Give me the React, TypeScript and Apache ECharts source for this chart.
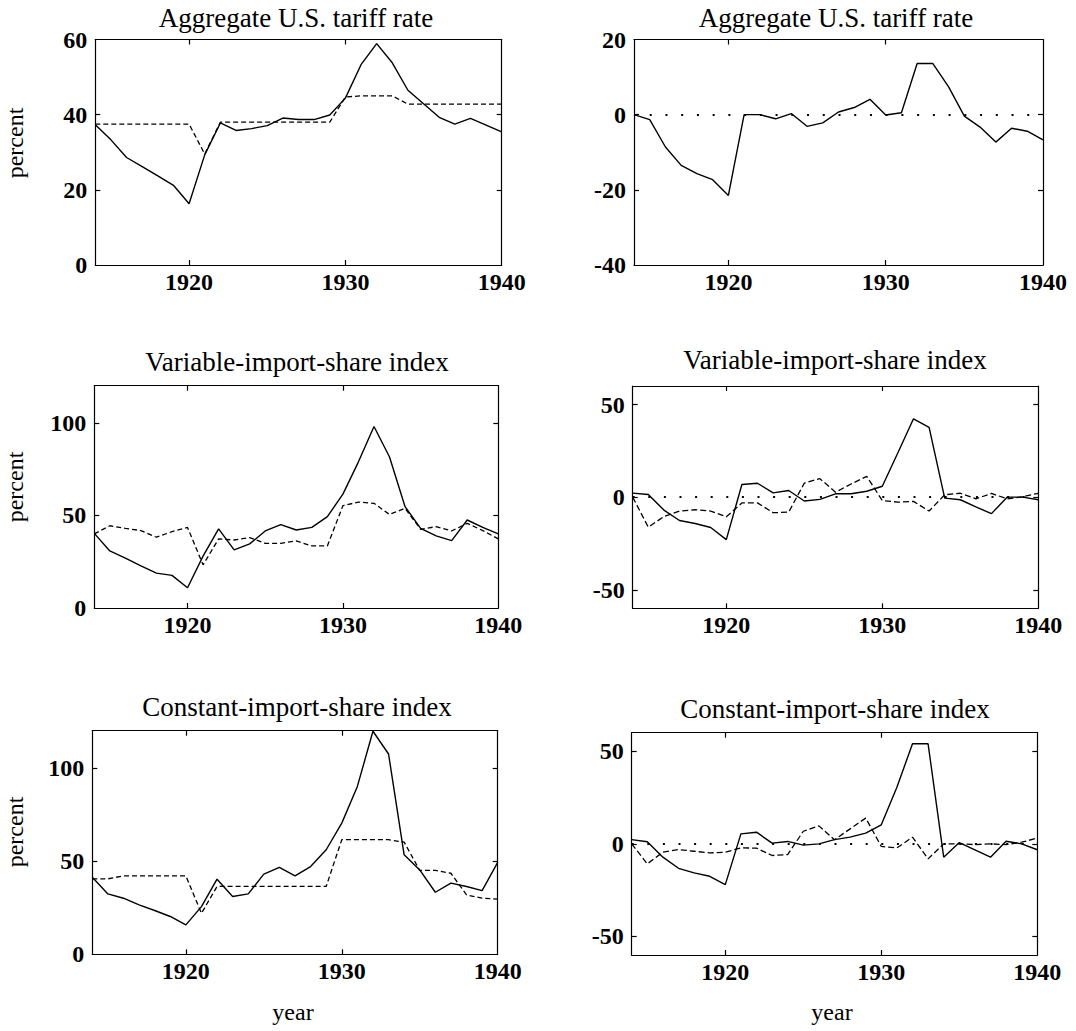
import React, { useEffect, useRef } from "react";
import * as echarts from "echarts";

// ---------- data ----------
const years = [
  1914, 1915, 1916, 1917, 1918, 1919, 1920, 1921, 1922, 1923, 1924, 1925, 1926, 1927,
  1928, 1929, 1930, 1931, 1932, 1933, 1934, 1935, 1936, 1937, 1938, 1939, 1940,
];

// Aggregate U.S. tariff rate
const tariffActual = [37.3, 33.3, 28.6, 26.2, 23.7, 21.2, 16.3, 29.3, 37.8, 35.8, 36.3, 37.1, 39.1, 38.7, 38.7, 39.9, 44.4, 53.3, 58.9, 53.8, 46.5, 42.9, 39.3, 37.5, 39.0, 37.2, 35.4];
const tariffPredicted = [37.5, 37.5, 37.5, 37.5, 37.5, 37.5, 37.5, 29.5, 38, 38, 38, 38, 38, 38, 38, 38, 44.7, 45, 45, 45, 42.8, 42.8, 42.8, 42.8, 42.8, 42.8, 42.8];
const tariffResidual = [0, -1.3, -8.6, -13.5, -15.7, -17.3, -21.5, 0, 0, -1.1, 0.3, -3.1, -2.2, 0.7, 1.9, 4.1, -0.1, 0.5, 13.6, 13.6, 7.4, -0.4, -3.3, -7.3, -3.6, -4.4, -6.7];

// Variable-import-share index
const varActual = [40.3, 30.8, 26.9, 22.8, 18.8, 17.6, 10.9, 28, 42.7, 31.4, 34.6, 41.6, 45.0, 42.1, 43.5, 49.3, 61.5, 78.9, 98.0, 81.5, 54.7, 43.0, 38.9, 36.4, 47.5, 43.5, 40.0];
const varPredicted = [40, 44.4, 43.0, 41.8, 38.2, 41.2, 43.5, 23.3, 37.3, 36.7, 38, 34.9, 34.9, 36.2, 33.5, 33.5, 55.2, 57.2, 56.5, 50.5, 53.8, 42.5, 43.9, 41.6, 45.7, 41.8, 37.3];
const varResidualA = [2.2, 1.4, -7, -12.6, -14.2, -16.4, -22.9, 6.8, 7.5, 2.3, 3.6, -2.1, -1.2, 1.8, 1.8, 3.2, 5.9, 24, 42.3, 37.7, -0.5, -1.4, -5.3, -8.9, 0, 0, -1.4];
const varResidualB = [0, -16.2, -10.5, -7.5, -6.8, -7.5, -10.6, -3.1, -3.1, -8.4, -8.1, 7.6, 10.0, 2.7, 7.1, 11.2, -1.8, -2.7, -2.3, -7.5, 1.3, 2.1, -0.9, 2.0, -0.9, 0.2, 2.1];

// Constant-import-share index
const constActual = [41.4, 32.4, 30.1, 26.5, 23.5, 20.3, 15.8, 25.6, 40.3, 31, 32.4, 43, 46.6, 42.1, 47.1, 56.1, 70.4, 90.1, 119.7, 107.5, 53.4, 45.3, 33.3, 38.2, 36.4, 34.2, 49.3];
const constPredicted = [40.5, 40.5, 42.1, 42.1, 42.1, 42.1, 42.1, 22, 36.4, 36.4, 36.4, 36.4, 36.4, 36.4, 36.4, 36.4, 61.5, 61.5, 61.5, 61.5, 60.2, 45, 45, 43.5, 31.9, 30.1, 29.6];
const constResidualA = [2.3, 1.1, -7.2, -13.2, -15.7, -17.5, -22, 5.4, 6.3, 0.4, 1.3, -0.7, 0, 2.3, 3.6, 5.8, 10.3, 30.6, 54, 54, -7.2, 0.7, -3.2, -7.2, 1.4, 0, -3.2];
const constResidualB = [0, -10.8, -4.5, -3.1, -4, -4.9, -4.5, -2.2, -2.3, -6.3, -5.8, 6.8, 9.7, 2.2, 8.1, 13.9, -1.4, -2.2, 3.6, -8.1, 0, 0, -0.4, 0, -0.4, 0.9, 3.1];

// tick labels
const xLabelValues = [1920, 1930, 1940];
const xTickValues = [1920, 1930];
const tariffYLabels = [0, 20, 40, 60];
const tariffYTicks = [20, 40];
const tariffResYLabels = [-40, -20, 0, 20];
const tariffResYTicks = [-20, 0];
const indexYLabels = [0, 50, 100];
const indexYTicks = [50, 100];
const indexResYLabels = [-50, 0, 50];
const indexResYTicks = [-50, 0, 50];

const titles = [
  "Aggregate U.S. tariff rate",
  "Aggregate U.S. tariff rate",
  "Variable-import-share index",
  "Variable-import-share index",
  "Constant-import-share index",
  "Constant-import-share index",
];

// ---------- layout (page pixel coordinates) ----------
const FONT = "'Liberation Serif', 'Times New Roman', serif";

type Panel = {
  grid: { left: number; top: number; width: number; height: number };
  ymin: number;
  ymax: number;
  yLabels: number[];
  yTicks: number[];
  solid: number[];
  dashed?: number[];
  dash: number[];
  zeroLine: boolean;
  titleX: number;
  titleY: number;
};

const panels: Panel[] = [
  { grid: { left: 95.3, top: 39.5, width: 406.4, height: 225.5 }, ymin: 0, ymax: 60, yLabels: tariffYLabels, yTicks: tariffYTicks, solid: tariffActual, dashed: tariffPredicted, dash: [5, 3], zeroLine: false, titleX: 296, titleY: 17.5 },
  { grid: { left: 634, top: 39.5, width: 409, height: 225.5 }, ymin: -40, ymax: 20, yLabels: tariffResYLabels, yTicks: tariffResYTicks, solid: tariffResidual, dash: [6, 3], zeroLine: true, titleX: 836, titleY: 17.5 },
  { grid: { left: 94.3, top: 385.7, width: 404, height: 222.3 }, ymin: 0, ymax: 120, yLabels: indexYLabels, yTicks: indexYTicks, solid: varActual, dashed: varPredicted, dash: [5, 3], zeroLine: false, titleX: 297, titleY: 361.5 },
  { grid: { left: 632.7, top: 386, width: 405.6, height: 222.3 }, ymin: -60, ymax: 60, yLabels: indexResYLabels, yTicks: indexResYTicks, solid: varResidualA, dashed: varResidualB, dash: [6, 3], zeroLine: true, titleX: 835, titleY: 360 },
  { grid: { left: 92.3, top: 730.7, width: 405.4, height: 223.6 }, ymin: 0, ymax: 120, yLabels: indexYLabels, yTicks: indexYTicks, solid: constActual, dashed: constPredicted, dash: [5, 3], zeroLine: false, titleX: 297, titleY: 707 },
  { grid: { left: 631.7, top: 732.7, width: 405.6, height: 222.3 }, ymin: -60, ymax: 60, yLabels: indexResYLabels, yTicks: indexResYTicks, solid: constResidualA, dashed: constResidualB, dash: [6, 3], zeroLine: true, titleX: 835, titleY: 709 },
];

const axisLine = { show: true, onZero: false, lineStyle: { color: "#000", width: 1.2 } };
const labelStyle = { fontFamily: FONT, fontWeight: "bold" as const, fontSize: 24, color: "#000" };
const plain = (v: number) => String(v);

function buildOption() {
  const grid: any[] = [];
  const xAxis: any[] = [];
  const yAxis: any[] = [];
  const series: any[] = [];
  const graphic: any[] = [];

  panels.forEach((p, i) => {
    grid.push({ ...p.grid, show: false, containLabel: false, outerBoundsMode: "none" });
    const tick = (vals: number[]) => ({
      show: true,
      inside: true,
      length: 5,
      customValues: vals,
      lineStyle: { color: "#000", width: 1.2 },
    });
    xAxis.push({
      type: "value", gridIndex: i, min: 1914, max: 1940, position: "bottom",
      axisLine, axisTick: tick(xTickValues),
      axisLabel: { ...labelStyle, show: true, customValues: xLabelValues, margin: 5, formatter: plain },
      splitLine: { show: false },
    });
    xAxis.push({
      type: "value", gridIndex: i, min: 1914, max: 1940, position: "top",
      axisLine, axisTick: tick(xTickValues), axisLabel: { show: false },
      splitLine: { show: false },
    });
    yAxis.push({
      type: "value", gridIndex: i, min: p.ymin, max: p.ymax, position: "left",
      axisLine, axisTick: tick(p.yTicks),
      axisLabel: { ...labelStyle, show: true, customValues: p.yLabels, margin: 8, formatter: plain },
      splitLine: { show: false },
    });
    yAxis.push({
      type: "value", gridIndex: i, min: p.ymin, max: p.ymax, position: "right",
      axisLine, axisTick: tick(p.yTicks), axisLabel: { show: false },
      splitLine: { show: false },
    });

    const step = p.grid.width / (1940 - 1914);
    series.push({
      type: "line",
      xAxisIndex: 2 * i,
      yAxisIndex: 2 * i,
      data: years.map((y, k) => [y, p.solid[k]]),
      symbol: "none",
      silent: true,
      lineStyle: { color: "#000", width: 1.4, type: "solid" },
      markLine: p.zeroLine
        ? {
            silent: true,
            symbol: "none",
            label: { show: false },
            lineStyle: { color: "#000", width: 2, type: [2, step - 2] },
            data: [{ yAxis: 0 }],
          }
        : undefined,
      z: 3,
    });
    if (p.dashed) {
      series.push({
        type: "line",
        xAxisIndex: 2 * i,
        yAxisIndex: 2 * i,
        data: years.map((y, k) => [y, p.dashed![k]]),
        symbol: "none",
        silent: true,
        lineStyle: { color: "#000", width: 1.3, type: p.dash },
        z: 2,
      });
    }

    graphic.push({
      type: "text",
      x: p.titleX,
      y: p.titleY,
      silent: true,
      style: {
        text: titles[i],
        fontFamily: FONT,
        fontSize: 27,
        fill: "#000",
        align: "center",
        verticalAlign: "middle",
      },
    });
  });

  const percentY = [143, 487, 832];
  percentY.forEach((y) =>
    graphic.push({
      type: "text",
      x: 15,
      y,
      rotation: Math.PI / 2,
      silent: true,
      style: { text: "percent", fontFamily: FONT, fontSize: 24, fill: "#000", align: "center", verticalAlign: "middle" },
    })
  );
  [293, 832].forEach((x) =>
    graphic.push({
      type: "text",
      x,
      y: 1012,
      silent: true,
      style: { text: "year", fontFamily: FONT, fontSize: 24, fill: "#000", align: "center", verticalAlign: "middle" },
    })
  );

  return {
    animation: false,
    backgroundColor: "#fff",
    grid,
    xAxis,
    yAxis,
    series,
    graphic,
  };
}

export default function App() {
  const ref = useRef<HTMLDivElement>(null);
  useEffect(() => {
    if (!ref.current) return;
    const chart = echarts.init(ref.current, undefined, { renderer: "svg" });
    chart.setOption(buildOption() as any);
    return () => chart.dispose();
  }, []);
  return (
    <div
      ref={ref}
      style={{ position: "absolute", left: 0, top: 0, width: 1076, height: 1031 }}
    />
  );
}
